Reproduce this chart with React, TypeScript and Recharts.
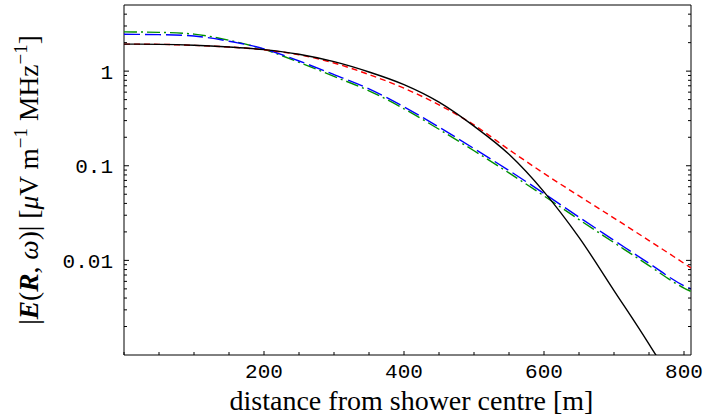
import React from 'react';
import { LineChart, Line, XAxis, YAxis, ReferenceArea } from 'recharts';

// distance from shower centre [m]
const distances = [0, 50, 100, 150, 200, 250, 300, 350, 400, 450, 500, 550, 600, 650, 700, 750, 800, 810];
// |E(R, ω)| [μV m^-1 MHz^-1]
const blackSeries = [1.93, 1.92, 1.88, 1.8, 1.69, 1.51, 1.26, 0.98, 0.72, 0.47, 0.262, 0.132, 0.053, 0.0175, 0.0048, 0.0013, 0.0003, 0.0002];
const redSeries = [1.93, 1.92, 1.87, 1.8, 1.68, 1.49, 1.22, 0.92, 0.66, 0.44, 0.27, 0.148, 0.083, 0.048, 0.028, 0.0162, 0.0093, 0.0083];
const blueSeries = [2.45, 2.43, 2.35, 2.07, 1.72, 1.28, 0.92, 0.65, 0.42, 0.256, 0.152, 0.089, 0.051, 0.0286, 0.0163, 0.0093, 0.0054, 0.005];
const greenSeries = [2.6, 2.57, 2.46, 2.12, 1.7, 1.24, 0.88, 0.62, 0.4, 0.243, 0.144, 0.084, 0.048, 0.027, 0.0154, 0.0088, 0.0051, 0.0047];

const xTicks = [0, 50, 100, 150, 200, 250, 300, 350, 400, 450, 500, 550, 600, 650, 700, 750, 800];
const xLabelled = [200, 400, 600, 800];
const yLabelled = [0.01, 0.1, 1];
const yMinor = [0.002, 0.003, 0.004, 0.005, 0.006, 0.007, 0.008, 0.009,
  0.02, 0.03, 0.04, 0.05, 0.06, 0.07, 0.08, 0.09,
  0.2, 0.3, 0.4, 0.5, 0.6, 0.7, 0.8, 0.9, 2, 3, 4];
const yTicks = [...yMinor, ...yLabelled].sort((a, b) => a - b);

const data = distances.map((d, i) => ({
  d,
  black: blackSeries[i],
  red: redSeries[i],
  blue: blueSeries[i],
  green: greenSeries[i],
}));

const W = 706;
const H = 419;
const PL = 124;
const PR = 691;
const PT = 5;
const PB = 355;

const tickFont = '"Liberation Mono", "Courier New", monospace';
const titleFont = '"Liberation Serif", "Times New Roman", serif';

function YTick(props: any) {
  const { y, payload } = props;
  const v = payload.value;
  const major = yLabelled.includes(v);
  const len = major ? 5 : 3;
  return (
    <g>
      <line x1={PL} x2={PL + len} y1={y} y2={y} stroke="#000" strokeWidth={1} />
      <line x1={PR} x2={PR - len} y1={y} y2={y} stroke="#000" strokeWidth={1} />
      {major && (
        <text x={PL - 11} y={y} dy="0.36em" textAnchor="end" fontFamily={tickFont} fontSize={21} fill="#000">
          {String(v)}
        </text>
      )}
    </g>
  );
}

function XTick(props: any) {
  const { x, payload } = props;
  const v = payload.value;
  const major = xLabelled.includes(v);
  const len = major ? 4 : 3;
  return (
    <g>
      <line x1={x} x2={x} y1={PB} y2={PB - len} stroke="#000" strokeWidth={1} />
      {major && (
        <text x={x} y={PB + 15} dy="0.36em" textAnchor="middle" fontFamily={tickFont} fontSize={21} fill="#000">
          {String(v)}
        </text>
      )}
    </g>
  );
}

export default function App() {
  const cy = (PT + PB) / 2;
  return (
    <div style={{ position: 'absolute', left: 0, top: 0, width: W, height: H, background: '#fff' }}>
      <LineChart width={W} height={H} data={data} margin={{ top: PT, right: W - PR, left: 0, bottom: 0 }}>
        <XAxis
          dataKey="d"
          type="number"
          domain={[0, 810]}
          ticks={xTicks}
          interval={0}
          allowDataOverflow
          height={H - PB}
          axisLine={false}
          tickLine={false}
          tick={<XTick />}
        />
        <YAxis
          type="number"
          scale="log"
          domain={[0.001, 5]}
          ticks={yTicks}
          interval={0}
          allowDataOverflow
          width={PL}
          axisLine={false}
          tickLine={false}
          tick={<YTick />}
        />
        <ReferenceArea x1={0} x2={810} y1={0.001} y2={5} fill="none" stroke="#000" strokeWidth={1} ifOverflow="visible" />
        <Line type="monotone" dataKey="green" stroke="#009000" strokeWidth={1.4} strokeDasharray="13 4 2 4" dot={false} isAnimationActive={false} />
        <Line type="monotone" dataKey="blue" stroke="#0000ff" strokeWidth={1.4} strokeDasharray="16 5" dot={false} isAnimationActive={false} />
        <Line type="monotone" dataKey="red" stroke="#ff0000" strokeWidth={1.4} strokeDasharray="6 4" dot={false} isAnimationActive={false} />
        <Line type="monotone" dataKey="black" stroke="#000" strokeWidth={1.4} dot={false} isAnimationActive={false} />
      </LineChart>
      <svg width={W} height={H} style={{ position: 'absolute', left: 0, top: 0, pointerEvents: 'none' }}>
        <text x={(PL + PR) / 2 + 4} y={410} textAnchor="middle" fontFamily={titleFont} fontSize={28} fill="#000">
          distance from shower centre [m]
        </text>
        <text
          x={38}
          y={cy}
          textAnchor="middle"
          fontFamily={titleFont}
          fontSize={27.5}
          fill="#000"
          transform={`rotate(-90, 38, ${cy})`}
        >
          <tspan>|</tspan>
          <tspan fontWeight="bold" fontStyle="italic">E</tspan>
          <tspan>(</tspan>
          <tspan fontWeight="bold" fontStyle="italic">R</tspan>
          <tspan>, </tspan>
          <tspan fontStyle="italic">ω</tspan>
          <tspan>)| [</tspan>
          <tspan fontStyle="italic">μ</tspan>
          <tspan>V m</tspan>
          <tspan dy={-11} fontSize={19}>−1</tspan>
          <tspan dy={11}> MHz</tspan>
          <tspan dy={-11} fontSize={19}>−1</tspan>
          <tspan dy={11}>]</tspan>
        </text>
      </svg>
    </div>
  );
}
